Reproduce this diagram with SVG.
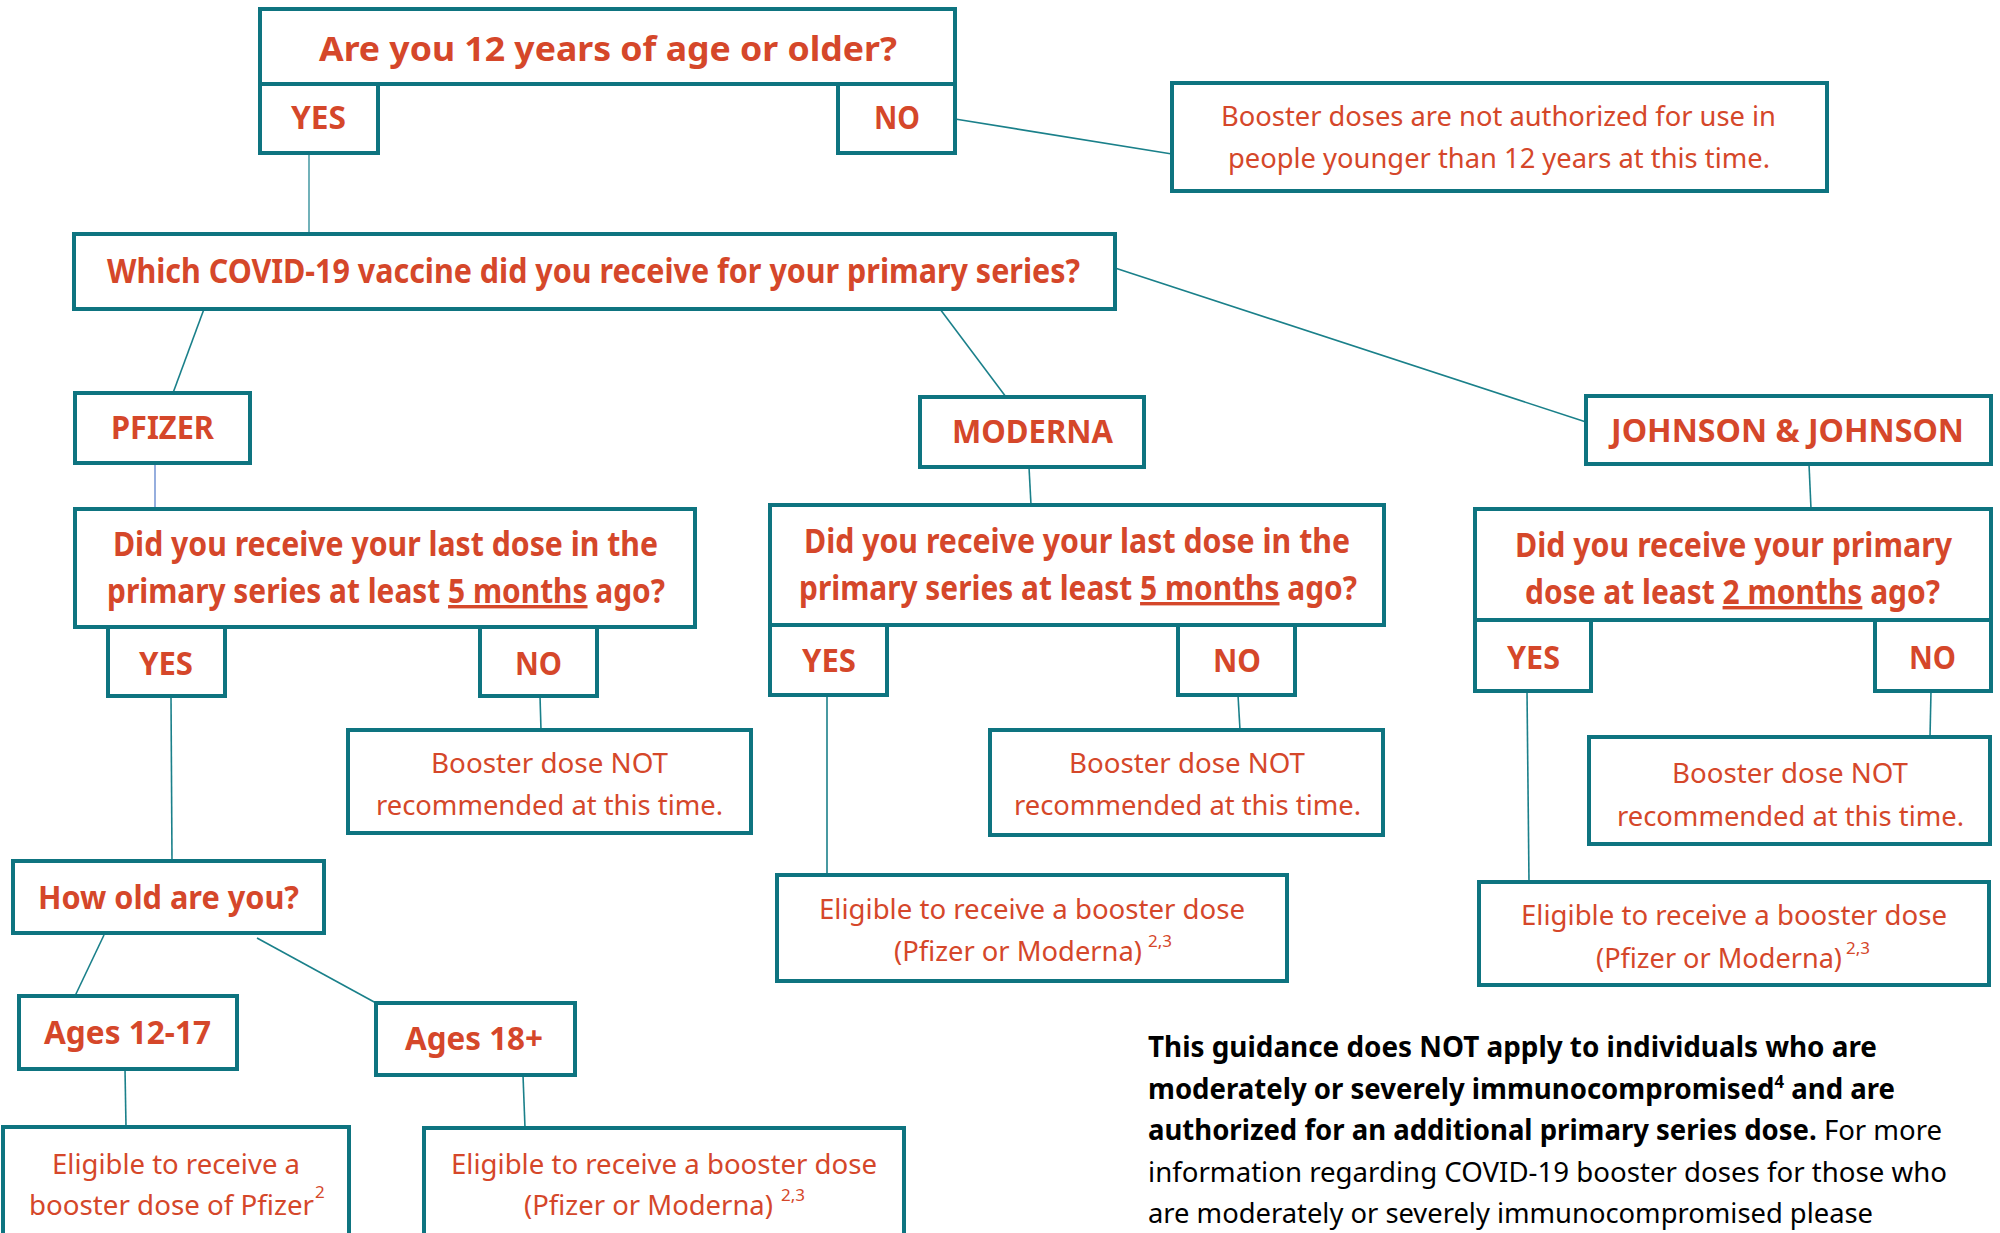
<svg xmlns="http://www.w3.org/2000/svg" width="2000" height="1233" viewBox="0 0 2000 1233">
<style>
.box{fill:#fff;stroke:#0E7480;stroke-width:4}
.q{font-family:"Noto Sans","Open Sans","Liberation Sans",sans-serif;font-weight:700;fill:#D5472A;font-size:34px}
.lb{font-family:"Noto Sans","Open Sans","Liberation Sans",sans-serif;font-weight:700;fill:#D5472A;font-size:32px}
.r{font-family:"Noto Sans","Open Sans","Liberation Sans",sans-serif;font-weight:400;fill:#D5472A;font-size:28px}
.sup{font-family:"Noto Sans","Open Sans","Liberation Sans",sans-serif;font-weight:400;fill:#D5472A;font-size:17px}
.fn{font-family:"Noto Sans","Open Sans","Liberation Sans",sans-serif;fill:#000;font-size:28px}
.c{stroke:#1A808A;stroke-width:1.6;fill:none}
</style>
<rect width="2000" height="1233" fill="#fff"/>
<g id="connectors">
<line class="c" x1="955" y1="119" x2="1172" y2="154"/>
<line class="c" x1="309" y1="153" x2="309" y2="234" style="stroke:#4E9EA8"/>
<line class="c" x1="204" y1="309" x2="173" y2="393"/>
<line class="c" x1="940" y1="309" x2="1006" y2="397"/>
<line class="c" x1="1115" y1="268" x2="1586" y2="422"/>
<line class="c" x1="155" y1="463" x2="155" y2="509" style="stroke:#7B9AD6"/>
<line class="c" x1="1029" y1="467" x2="1031" y2="505"/>
<line class="c" x1="1809" y1="464" x2="1811" y2="509"/>
<line class="c" x1="171" y1="696" x2="172" y2="861"/>
<line class="c" x1="540" y1="696" x2="541" y2="730"/>
<line class="c" x1="827" y1="695" x2="827" y2="875"/>
<line class="c" x1="1238" y1="695" x2="1240" y2="730"/>
<line class="c" x1="1527" y1="691" x2="1529" y2="882"/>
<line class="c" x1="1931" y1="691" x2="1930" y2="737"/>
<line class="c" x1="104" y1="935" x2="75" y2="996"/>
<line class="c" x1="257" y1="938" x2="376" y2="1003"/>
<line class="c" x1="125" y1="1069" x2="126" y2="1127"/>
<line class="c" x1="523" y1="1075" x2="525" y2="1128"/>
</g>
<g id="q-age">
<rect class="box" x="260" y="9" width="695" height="75"/>
<text class="q" x="319" y="61" font-size="36" textLength="578" lengthAdjust="spacingAndGlyphs">Are you 12 years of age or older?</text>
</g>
<g id="age-yes">
<rect class="box" x="260" y="84" width="118" height="69"/>
<text class="lb" x="291" y="129" textLength="55" lengthAdjust="spacingAndGlyphs">YES</text>
</g>
<g id="age-no">
<rect class="box" x="838" y="84" width="117" height="69"/>
<text class="lb" x="874" y="129" textLength="46" lengthAdjust="spacingAndGlyphs">NO</text>
</g>
<g id="not-authorized">
<rect class="box" x="1172" y="83" width="655" height="108"/>
<text class="r" x="1221" y="126" textLength="555" lengthAdjust="spacingAndGlyphs">Booster doses are not authorized for use in</text>
<text class="r" x="1228" y="168" textLength="542" lengthAdjust="spacingAndGlyphs">people younger than 12 years at this time.</text>
</g>
<g id="q-vaccine">
<rect class="box" x="74" y="234" width="1041" height="75"/>
<text class="q" x="107" y="283" textLength="973" lengthAdjust="spacingAndGlyphs">Which COVID-19 vaccine did you receive for your primary series?</text>
</g>
<g id="pfizer">
<rect class="box" x="75" y="393" width="175" height="70"/>
<text class="lb" x="111" y="439" textLength="103" lengthAdjust="spacingAndGlyphs">PFIZER</text>
</g>
<g id="moderna">
<rect class="box" x="920" y="397" width="224" height="70"/>
<text class="lb" x="952" y="443" textLength="161" lengthAdjust="spacingAndGlyphs">MODERNA</text>
</g>
<g id="jj">
<rect class="box" x="1586" y="396" width="405" height="68"/>
<text class="lb" x="1611" y="442" textLength="353" lengthAdjust="spacingAndGlyphs">JOHNSON &amp; JOHNSON</text>
</g>
<g id="q-pfizer">
<rect class="box" x="75" y="509" width="620" height="118"/>
<text class="q" x="113" y="556" font-size="31" textLength="545" lengthAdjust="spacingAndGlyphs">Did you receive your last dose in the</text>
<text class="q" x="107" y="603" font-size="31" textLength="558" lengthAdjust="spacingAndGlyphs">primary series at least <tspan text-decoration="underline">5 months</tspan> ago?</text>
</g>
<g id="pfizer-yes">
<rect class="box" x="108" y="627" width="117" height="69"/>
<text class="lb" x="139" y="675" textLength="54" lengthAdjust="spacingAndGlyphs">YES</text>
</g>
<g id="pfizer-no">
<rect class="box" x="480" y="627" width="117" height="69"/>
<text class="lb" x="515" y="675" textLength="47" lengthAdjust="spacingAndGlyphs">NO</text>
</g>
<g id="q-moderna">
<rect class="box" x="770" y="505" width="614" height="120"/>
<text class="q" x="804" y="553" font-size="31" textLength="546" lengthAdjust="spacingAndGlyphs">Did you receive your last dose in the</text>
<text class="q" x="799" y="600" font-size="31" textLength="558" lengthAdjust="spacingAndGlyphs">primary series at least <tspan text-decoration="underline">5 months</tspan> ago?</text>
</g>
<g id="moderna-yes">
<rect class="box" x="770" y="625" width="117" height="70"/>
<text class="lb" x="802" y="672" textLength="54" lengthAdjust="spacingAndGlyphs">YES</text>
</g>
<g id="moderna-no">
<rect class="box" x="1178" y="625" width="117" height="70"/>
<text class="lb" x="1213" y="672" textLength="48" lengthAdjust="spacingAndGlyphs">NO</text>
</g>
<g id="q-jj">
<rect class="box" x="1475" y="509" width="516" height="111"/>
<text class="q" x="1515" y="557" font-size="31" textLength="437" lengthAdjust="spacingAndGlyphs">Did you receive your primary</text>
<text class="q" x="1525" y="604" font-size="31" textLength="415" lengthAdjust="spacingAndGlyphs">dose at least <tspan text-decoration="underline">2 months</tspan> ago?</text>
</g>
<g id="jj-yes">
<rect class="box" x="1475" y="620" width="116" height="71"/>
<text class="lb" x="1507" y="669" textLength="53" lengthAdjust="spacingAndGlyphs">YES</text>
</g>
<g id="jj-no">
<rect class="box" x="1875" y="620" width="116" height="71"/>
<text class="lb" x="1909" y="669" textLength="47" lengthAdjust="spacingAndGlyphs">NO</text>
</g>
<g id="pfizer-not">
<rect class="box" x="348" y="730" width="403" height="103"/>
<text class="r" x="431" y="773" textLength="237" lengthAdjust="spacingAndGlyphs">Booster dose NOT</text>
<text class="r" x="376" y="815" textLength="347" lengthAdjust="spacingAndGlyphs">recommended at this time.</text>
</g>
<g id="moderna-not">
<rect class="box" x="990" y="730" width="393" height="105"/>
<text class="r" x="1069" y="773" textLength="236" lengthAdjust="spacingAndGlyphs">Booster dose NOT</text>
<text class="r" x="1014" y="815" textLength="347" lengthAdjust="spacingAndGlyphs">recommended at this time.</text>
</g>
<g id="jj-not">
<rect class="box" x="1589" y="737" width="401" height="107"/>
<text class="r" x="1672" y="783" textLength="236" lengthAdjust="spacingAndGlyphs">Booster dose NOT</text>
<text class="r" x="1617" y="826" textLength="347" lengthAdjust="spacingAndGlyphs">recommended at this time.</text>
</g>
<g id="moderna-eligible">
<rect class="box" x="777" y="875" width="510" height="106"/>
<text class="r" x="819" y="919" textLength="426" lengthAdjust="spacingAndGlyphs">Eligible to receive a booster dose</text>
<text class="r" x="894" y="961" textLength="248" lengthAdjust="spacingAndGlyphs">(Pfizer or Moderna)</text>
<text class="sup" x="1148" y="947">2,3</text>
</g>
<g id="jj-eligible">
<rect class="box" x="1479" y="882" width="510" height="103"/>
<text class="r" x="1521" y="925" textLength="426" lengthAdjust="spacingAndGlyphs">Eligible to receive a booster dose</text>
<text class="r" x="1596" y="968" textLength="246" lengthAdjust="spacingAndGlyphs">(Pfizer or Moderna)</text>
<text class="sup" x="1846" y="954">2,3</text>
</g>
<g id="q-howold">
<rect class="box" x="13" y="861" width="311" height="72"/>
<text class="lb" x="38" y="909" textLength="261" lengthAdjust="spacingAndGlyphs">How old are you?</text>
</g>
<g id="ages-12-17">
<rect class="box" x="19" y="996" width="218" height="73"/>
<text class="lb" x="44" y="1044" textLength="167" lengthAdjust="spacingAndGlyphs">Ages 12-17</text>
</g>
<g id="ages-18">
<rect class="box" x="376" y="1003" width="199" height="72"/>
<text class="lb" x="405" y="1050" textLength="138" lengthAdjust="spacingAndGlyphs">Ages 18+</text>
</g>
<g id="pfizer-eligible-12">
<rect class="box" x="3" y="1127" width="346" height="120"/>
<text class="r" x="52" y="1174" textLength="248" lengthAdjust="spacingAndGlyphs">Eligible to receive a</text>
<text class="r" x="29" y="1215" textLength="285" lengthAdjust="spacingAndGlyphs">booster dose of Pfizer</text>
<text class="sup" x="315" y="1198">2</text>
</g>
<g id="eligible-18">
<rect class="box" x="424" y="1128" width="480" height="120"/>
<text class="r" x="451" y="1174" textLength="426" lengthAdjust="spacingAndGlyphs">Eligible to receive a booster dose</text>
<text class="r" x="524" y="1215" textLength="249" lengthAdjust="spacingAndGlyphs">(Pfizer or Moderna)</text>
<text class="sup" x="781" y="1201">2,3</text>
</g>
<g id="footnote">
<text class="fn" font-weight="700" x="1148" y="1057" textLength="729" lengthAdjust="spacingAndGlyphs">This guidance does NOT apply to individuals who are</text>
<text class="fn" font-weight="700" x="1148" y="1099" textLength="747" lengthAdjust="spacingAndGlyphs">moderately or severely immunocompromised<tspan font-size="17" dy="-11">4</tspan><tspan dy="11"> and are</tspan></text>
<text class="fn" x="1148" y="1140" textLength="794" lengthAdjust="spacingAndGlyphs"><tspan font-weight="700">authorized for an additional primary series dose.</tspan> For more</text>
<text class="fn" x="1148" y="1182" textLength="799" lengthAdjust="spacingAndGlyphs">information regarding COVID-19 booster doses for those who</text>
<text class="fn" x="1148" y="1223" textLength="725" lengthAdjust="spacingAndGlyphs">are moderately or severely immunocompromised please</text>
</g>
</svg>
